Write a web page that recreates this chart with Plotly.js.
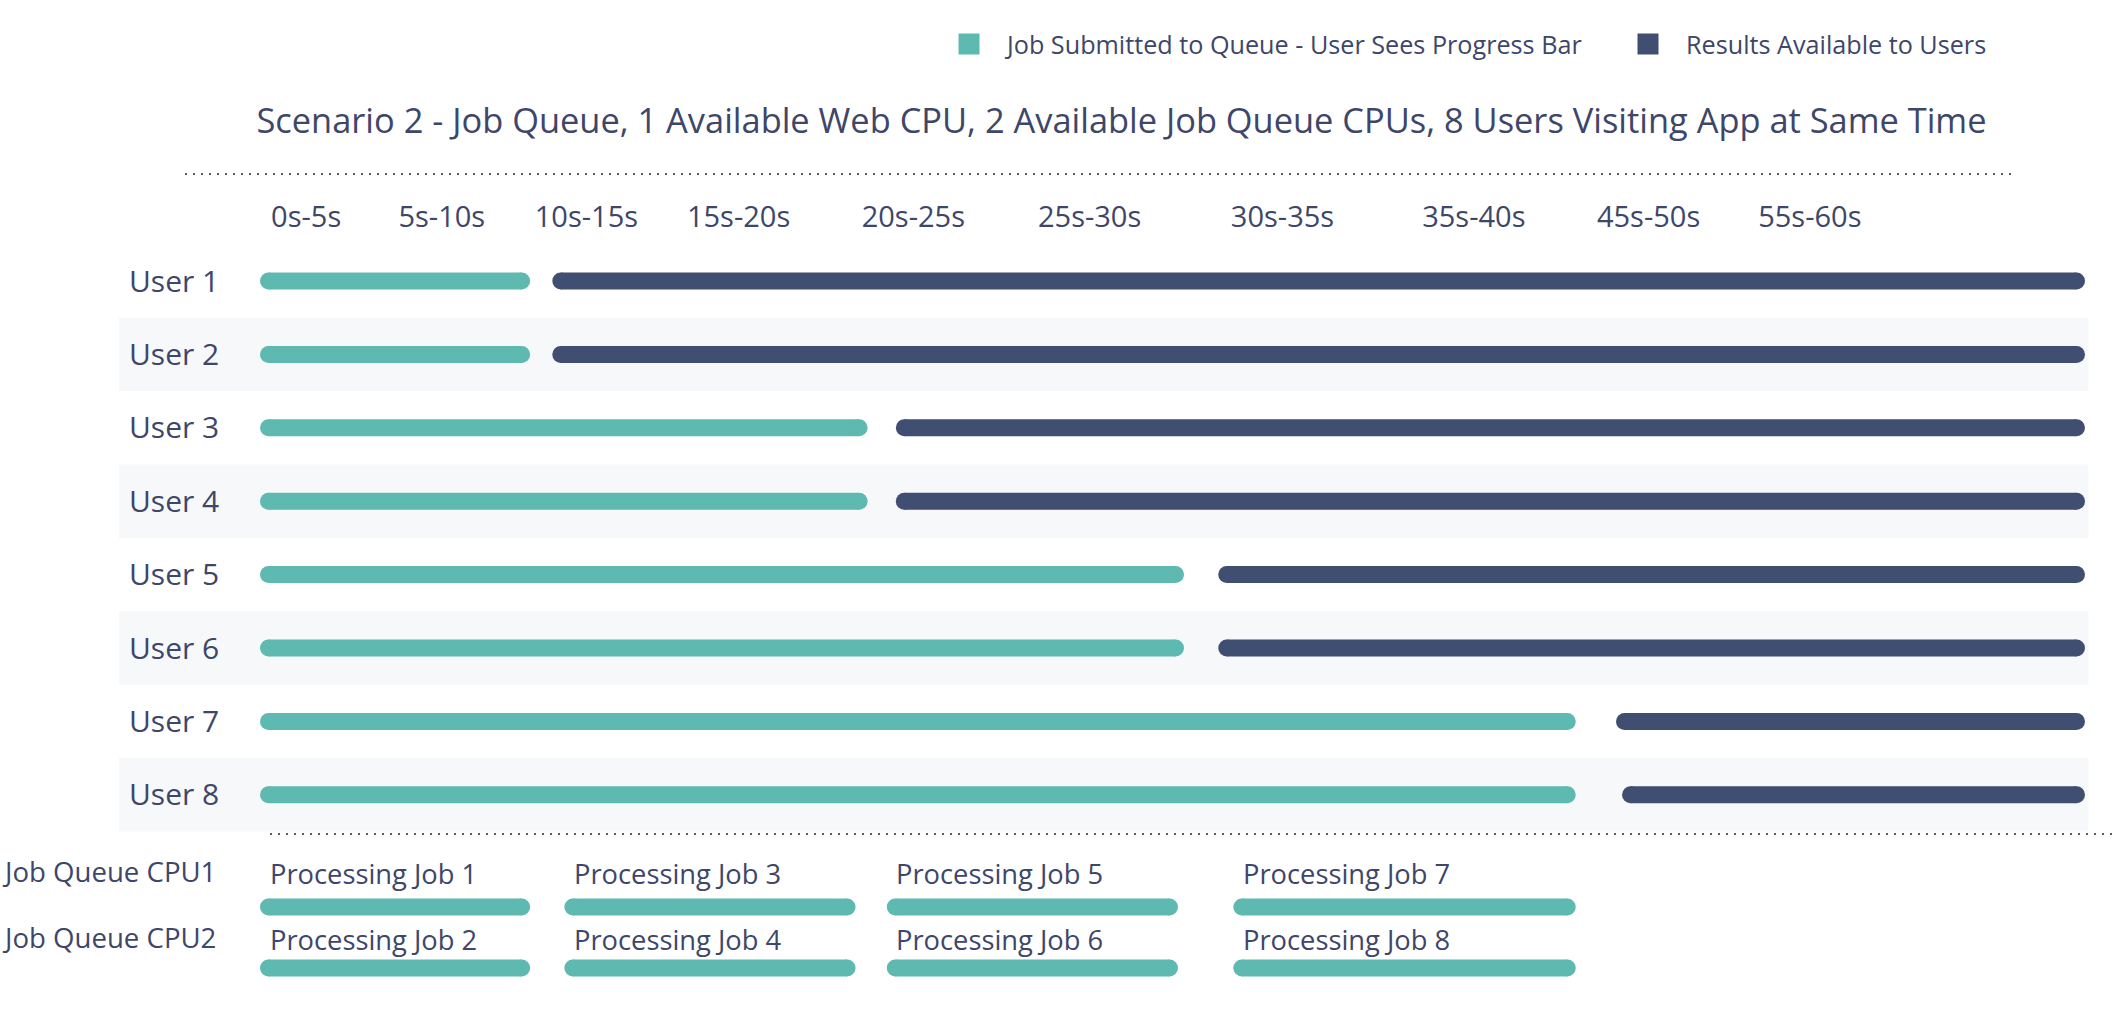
<!DOCTYPE html>
<html><head><meta charset="utf-8">
<script src="https://cdn.plot.ly/plotly-3.0.1.min.js"></script>
<style>html,body{margin:0;padding:0;background:#fff}#chart{width:2116px;height:1024px}</style>
</head><body><div id="chart"></div>
<script>
// ---- data (seconds) ----
const users = ['User 1','User 2','User 3','User 4','User 5','User 6','User 7','User 8'];
const waitStart = [0, 0, 0, 0, 0, 0, 0, 0];
const waitEnd = [8.4, 8.4, 19.6, 19.6, 30.1, 30.1, 43.1, 43.1];
const resultStart = [9.7, 9.7, 21.1, 21.1, 31.8, 31.8, 45.0, 45.2];
const resultEnd = [60, 60, 60, 60, 60, 60, 60, 60];
const cpus = ['Job Queue CPU1', 'Job Queue CPU2'];
const jobNames = ['Processing Job 1','Processing Job 2','Processing Job 3','Processing Job 4','Processing Job 5','Processing Job 6','Processing Job 7','Processing Job 8'];
const jobCpu = ['Job Queue CPU1','Job Queue CPU2','Job Queue CPU1','Job Queue CPU2','Job Queue CPU1','Job Queue CPU2','Job Queue CPU1','Job Queue CPU2'];
const jobStart = [0, 0, 10.1, 10.1, 20.8, 20.8, 32.3, 32.3];
const jobEnd = [8.4, 8.4, 19.2, 19.2, 29.9, 29.9, 43.1, 43.1];
const periodLabels = ['0s-5s','5s-10s','10s-15s','15s-20s','20s-25s','25s-30s','30s-35s','35s-40s','45s-50s','55s-60s'];
const periodAt = [1.25, 5.75, 10.55, 15.6, 21.4, 27.25, 33.65, 40.0, 45.8, 51.15];
const seriesNames = ['Job Submitted to Queue - User Sees Progress Bar', 'Results Available to Users'];
const titleText = 'Scenario 2 - Job Queue, 1 Available Web CPU, 2 Available Job Queue CPUs, 8 Users Visiting App at Same Time';

// ---- styles ----
const teal = '#5eb9b0', navy = '#404e72', ink = '#3e4669', band = '#f7f8fa';
const FONT = '"Open Sans", sans-serif';
const W = 2116, H = 1024;
const x0px = 268.5, x60px = 2076.5;
const pxPerSec = (x60px - x0px) / 60;
const barPx = 17;

function segs(starts, ends, cats) {
  const x = [], y = [];
  starts.forEach((s, i) => { x.push(s, ends[i], null); y.push(cats[i], cats[i], null); });
  return {x, y};
}
function segTrace(sg, color, yaxis) {
  return {type: 'scatter', mode: 'lines+markers', x: sg.x, y: sg.y, yaxis: yaxis,
    line: {color: color, width: barPx}, marker: {color: color, size: barPx, symbol: 'circle', line: {width: 0}},
    showlegend: false, hoverinfo: 'skip', connectgaps: false, cliponaxis: false};
}

const traces = [
  segTrace(segs(waitStart, waitEnd, users), teal, 'y'),
  segTrace(segs(resultStart, resultEnd, users), navy, 'y'),
  segTrace(segs(jobStart, jobEnd, jobCpu), teal, 'y2'),
  {type: 'scatter', mode: 'markers', x: [null], y: [null], name: seriesNames[0], showlegend: true,
   marker: {symbol: 'square', size: 16, color: teal, line: {color: teal, width: 5}}},
  {type: 'scatter', mode: 'markers', x: [null], y: [null], name: seriesNames[1], showlegend: true,
   marker: {symbol: 'square', size: 16, color: navy, line: {color: navy, width: 5}}}
];

const shapes = [];
users.forEach((u, i) => {
  if (i % 2 === 1) shapes.push({type: 'rect', xref: 'paper', yref: 'y', x0: 0.0562, x1: 0.987, y0: i - 0.5, y1: i + 0.5,
    fillcolor: band, line: {width: 0}, layer: 'below'});
});
shapes.push({type: 'line', xref: 'paper', yref: 'paper', x0: 185 / W, x1: 2013 / W, y0: 1 - 174 / H, y1: 1 - 174 / H,
  line: {color: '#555b6e', width: 2, dash: '2px,6px'}});
shapes.push({type: 'line', xref: 'paper', yref: 'paper', x0: 270 / W, x1: 1, y0: 1 - 834 / H, y1: 1 - 834 / H,
  line: {color: '#555b6e', width: 2, dash: '2px,6px'}});

const cpuShift = {'Job Queue CPU1': 34, 'Job Queue CPU2': 29};
const annotations = [];
jobNames.forEach((n, i) => annotations.push({text: n, x: jobStart[i], y: jobCpu[i], xref: 'x', yref: 'y2',
  xanchor: 'left', yanchor: 'middle', xshift: -1, yshift: cpuShift[jobCpu[i]], showarrow: false,
  font: {size: 27.3, color: ink, family: FONT}}));
cpus.forEach(c => annotations.push({text: c, x: 0, y: c, xref: 'paper', yref: 'y2',
  xanchor: 'left', yanchor: 'middle', yshift: cpuShift[c] + 2, showarrow: false,
  font: {size: 27.6, color: ink, family: FONT}}));

const layout = {
  width: W, height: H, margin: {l: 0, r: 0, t: 0, b: 0, pad: 0, autoexpand: false},
  paper_bgcolor: '#ffffff', plot_bgcolor: 'rgba(0,0,0,0)',
  font: {family: FONT, color: ink},
  title: {text: titleText, x: 0.530, xref: 'paper', xanchor: 'center', y: 1 - 121 / H, yanchor: 'middle',
    font: {size: 34.4, color: ink, family: FONT}},
  showlegend: true,
  legend: {orientation: 'h', x: 931 / W, xanchor: 'left', y: 1 - 44 / H, yanchor: 'middle', itemwidth: 66,
    entrywidth: 598, entrywidthmode: 'pixels',
    font: {size: 25.2, color: ink, family: FONT}, bgcolor: 'rgba(0,0,0,0)', traceorder: 'normal'},
  xaxis: {domain: [0, 1], range: [-x0px / pxPerSec, (W - x0px) / pxPerSec], side: 'top', anchor: 'free',
    position: 1 - 233 / H, tickmode: 'array', tickvals: periodAt, ticktext: periodLabels, ticks: '',
    tickfont: {size: 29, color: ink, family: FONT}, showgrid: false, zeroline: false, showline: false, automargin: false, fixedrange: true},
  yaxis: {domain: [0, 1], type: 'category', categoryorder: 'array', categoryarray: users,
    range: [(H - 281) / 73.4, -281 / 73.4], anchor: 'free', position: 0.1036, ticks: '',
    tickfont: {size: 30, color: ink, family: FONT}, showgrid: false, zeroline: false, showline: false, automargin: false, fixedrange: true},
  yaxis2: {overlaying: 'y', type: 'category', categoryorder: 'array', categoryarray: cpus,
    range: [(H - 907) / 61, -907 / 61], anchor: 'free', position: 0.1036, showticklabels: false, ticks: '',
    showgrid: false, zeroline: false, showline: false, automargin: false, fixedrange: true},
  shapes: shapes, annotations: annotations, hovermode: false
};

Plotly.newPlot('chart', traces, layout, {displayModeBar: false, staticPlot: true});
</script></body></html>
